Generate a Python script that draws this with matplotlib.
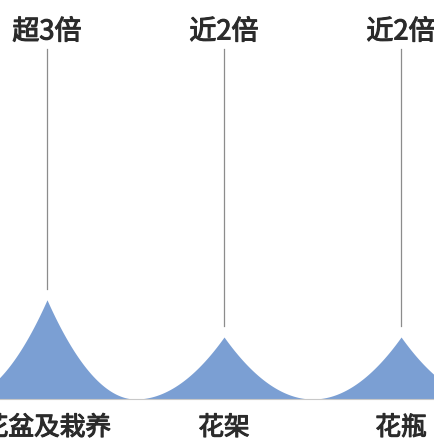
import matplotlib
matplotlib.use("agg")
import matplotlib.pyplot as plt
import matplotlib.patheffects as pe
import numpy as np

plt.rcParams['font.family'] = ['Noto Sans CJK SC', 'DejaVu Sans']

categories = ['花盆及栽养', '花架', '花瓶']
values = [3.2, 2.0, 2.0]
top_labels = ['超3倍', '近2倍', '近2倍']

fill_color = '#7b9fd3'
text_color = '#2b2b2b'
# thicken the regular weight a little
thick = [pe.withStroke(linewidth=0.8, foreground=text_color)]

fig = plt.figure(figsize=(4.34, 4.46), dpi=100)
ax = fig.add_axes([0, 0, 1, 1])
ax.set_xlim(-0.2655, 2.186)
ax.set_ylim(-1.516, 12.87)
ax.axis('off')

# concave spike for each category, half-width 0.5
t = np.linspace(-0.5, 0.5, 201)
for i, v in enumerate(values):
    prof = v * (1 - np.abs(t) / 0.5) ** 2.0
    ax.fill_between(i + t, 0, prof, color=fill_color, lw=0)
    ax.plot([i, i], [v + 0.35, 11.3], color='#8c8c8c', lw=0.9)
    ax.text(i, 11.84, top_labels[i], ha='center', va='center',
            fontsize=19.5, color=text_color, path_effects=thick)
    ax.text(i, -0.935, categories[i], ha='center', va='center',
            fontsize=18.5, color=text_color, path_effects=thick)

ax.axhline(0, color='#c8c8c8', lw=0.8)

fig.savefig('out.png', dpi=100)
